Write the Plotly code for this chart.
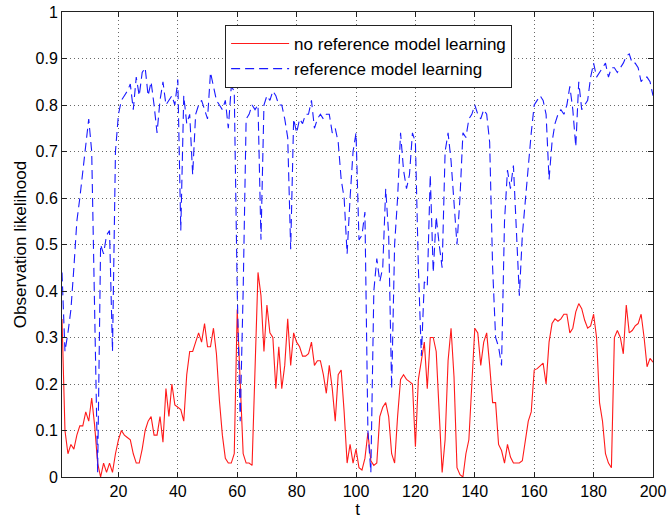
import plotly.graph_objects as go

t = list(range(1, 201))

no_ref = [
    0.34, 0.10, 0.05, 0.07, 0.06, 0.09, 0.11, 0.11, 0.14, 0.12,
    0.17, 0.11, 0.03, 0.00, 0.03, 0.01, 0.03, 0.01, 0.05, 0.08,
    0.10, 0.09, 0.085, 0.08, 0.05, 0.03, 0.03, 0.06, 0.10, 0.12,
    0.13, 0.09, 0.09, 0.13, 0.075, 0.19, 0.13, 0.20, 0.155, 0.15,
    0.145, 0.12, 0.22, 0.27, 0.27, 0.29, 0.31, 0.29, 0.33, 0.28,
    0.28, 0.32, 0.265, 0.165, 0.09, 0.04, 0.03, 0.03, 0.05, 0.36,
    0.20, 0.05, 0.03, 0.03, 0.025, 0.25, 0.44, 0.39, 0.27, 0.37,
    0.31, 0.30, 0.19, 0.28, 0.19, 0.24, 0.34, 0.24, 0.31, 0.29,
    0.28, 0.26, 0.26, 0.265, 0.29, 0.24, 0.25, 0.25, 0.22, 0.18,
    0.24, 0.19, 0.12, 0.22, 0.23, 0.14, 0.03, 0.07, 0.03, 0.06,
    0.02, 0.015, 0.04, 0.095, 0.035, 0.025, 0.03, 0.13, 0.15, 0.16,
    0.13, 0.05, 0.03, 0.13, 0.21, 0.22, 0.21, 0.205, 0.20, 0.065,
    0.21, 0.25, 0.29, 0.19, 0.30, 0.30, 0.27, 0.14, 0.01, 0.08,
    0.25, 0.32, 0.215, 0.02, 0.005, 0.00, 0.05, 0.08, 0.20, 0.32,
    0.31, 0.24, 0.29, 0.31, 0.24, 0.16, 0.16, 0.07, 0.057, 0.03,
    0.07, 0.043, 0.03, 0.03, 0.03, 0.035, 0.08, 0.12, 0.14, 0.23,
    0.233, 0.24, 0.245, 0.20, 0.29, 0.33, 0.34, 0.335, 0.34, 0.35,
    0.35, 0.31, 0.32, 0.355, 0.373, 0.362, 0.337, 0.32, 0.325, 0.35,
    0.30, 0.16, 0.12, 0.05, 0.03, 0.02, 0.30, 0.315, 0.30, 0.265,
    0.37, 0.31, 0.315, 0.325, 0.33, 0.35, 0.30, 0.237, 0.255, 0.247,
]

with_ref = [
    0.44, 0.27, 0.31, 0.36, 0.45, 0.55, 0.60, 0.66, 0.72, 0.77,
    0.70, 0.35, 0.01, 0.50, 0.48, 0.52, 0.53, 0.27, 0.70, 0.78,
    0.81, 0.82, 0.83, 0.845, 0.79, 0.86, 0.82, 0.87, 0.88, 0.82,
    0.85, 0.80, 0.74, 0.81, 0.85, 0.80, 0.81, 0.82, 0.80, 0.855,
    0.53, 0.82, 0.76, 0.78, 0.65, 0.78, 0.80, 0.81, 0.79, 0.77,
    0.87, 0.84, 0.81, 0.80, 0.79, 0.81, 0.75, 0.84, 0.83, 0.40,
    0.12, 0.40, 0.77, 0.78, 0.80, 0.79, 0.80, 0.51, 0.80, 0.82,
    0.81, 0.83, 0.82, 0.80, 0.80, 0.77, 0.73, 0.49, 0.77, 0.74,
    0.77, 0.76, 0.78, 0.78, 0.81, 0.75, 0.77, 0.78, 0.77, 0.78,
    0.78, 0.74, 0.75, 0.72, 0.64, 0.60, 0.48, 0.60, 0.70, 0.74,
    0.51, 0.52, 0.57, 0.10, 0.01, 0.40, 0.47, 0.42, 0.45, 0.62,
    0.52, 0.19, 0.50, 0.60, 0.74, 0.66, 0.62, 0.65, 0.74, 0.72,
    0.45, 0.26, 0.42, 0.41, 0.65, 0.44, 0.56, 0.50, 0.45, 0.70,
    0.74, 0.68, 0.58, 0.50, 0.60, 0.74, 0.73, 0.77, 0.78, 0.80,
    0.78, 0.77, 0.79, 0.78, 0.72, 0.45, 0.30, 0.28, 0.24, 0.55,
    0.66, 0.62, 0.67, 0.51, 0.39, 0.52, 0.60, 0.68, 0.74, 0.80,
    0.81, 0.82, 0.81, 0.78, 0.64, 0.72, 0.76, 0.78, 0.79, 0.78,
    0.80, 0.84, 0.79, 0.71, 0.85, 0.79, 0.80, 0.81, 0.86, 0.89,
    0.86, 0.87, 0.88, 0.89, 0.86, 0.88, 0.88, 0.87, 0.88, 0.89,
    0.905, 0.91, 0.89, 0.89, 0.88, 0.85, 0.86, 0.86, 0.85, 0.82,
]

x_ticks = [20, 40, 60, 80, 100, 120, 140, 160, 180, 200]
y_ticks = [0, 0.1, 0.2, 0.3, 0.4, 0.5, 0.6, 0.7, 0.8, 0.9, 1]
y_tick_text = ["0", "0.1", "0.2", "0.3", "0.4", "0.5", "0.6", "0.7", "0.8", "0.9", "1"]

FONT = "Liberation Sans, Arial, Helvetica, sans-serif"

fig = go.Figure()
fig.add_trace(go.Scatter(
    x=t, y=no_ref, mode="lines", name="no reference model learning",
    line=dict(color="#ff1a1a", width=1.1),
))
fig.add_trace(go.Scatter(
    x=t, y=with_ref, mode="lines", name="reference model learning",
    line=dict(color="#1a1aff", width=1.1, dash="9px,5px"),
))

axis_common = dict(
    showline=True, linecolor="#222", linewidth=1, mirror="ticks",
    ticks="inside", ticklen=5, tickcolor="#222",
    showgrid=True, gridcolor="rgba(40,40,40,0.7)", gridwidth=1, griddash="1px,3px",
    zeroline=False, automargin=False,
    tickfont=dict(family=FONT, size=16, color="black"),
)

fig.update_layout(
    width=667, height=522,
    margin=dict(l=62, r=14, t=12, b=45),
    paper_bgcolor="white", plot_bgcolor="white",
    font=dict(family=FONT, size=16, color="black"),
    xaxis=dict(range=[1, 200], tickvals=x_ticks,
               title=dict(text="t", standoff=0, font=dict(family=FONT, size=17)),
               **axis_common),
    yaxis=dict(range=[0, 1], tickvals=y_ticks, ticktext=y_tick_text,
               title=dict(text="Observation likelihood", standoff=4, font=dict(family=FONT, size=17)),
               **axis_common),
    legend=dict(
        x=0.276, y=0.972, xanchor="left", yanchor="top",
        bgcolor="white", bordercolor="#222", borderwidth=1,
        font=dict(family=FONT, size=17, color="black"),
        tracegroupgap=0, itemwidth=58,
    ),
    showlegend=True,
)

fig.write_html("out.html")
